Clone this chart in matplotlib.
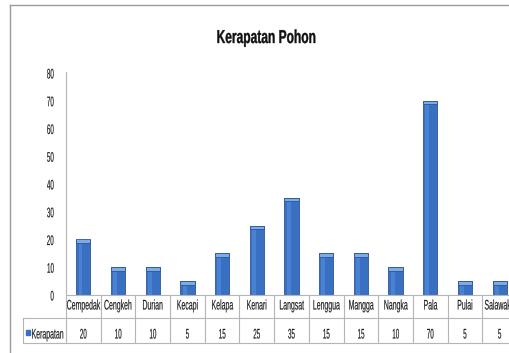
import matplotlib
matplotlib.use("Agg")
import matplotlib.pyplot as plt
from matplotlib.lines import Line2D
from matplotlib.patches import Rectangle
from matplotlib.patheffects import AbstractPathEffect
from matplotlib.transforms import Affine2D

plt.rcParams['font.family'] = ['Liberation Sans', 'DejaVu Sans']

# Kerapatan pohon per jenis
jenis = ['Cempedak', 'Cengkeh', 'Durian', 'Kecapi', 'Kelapa', 'Kenari', 'Langsat',
         'Lenggua', 'Mangga', 'Nangka', 'Pala', 'Pulai', 'Salawaku']
kerapatan = [20, 10, 10, 5, 15, 25, 35, 15, 15, 10, 70, 5, 5]
y_ticks = [0, 10, 20, 30, 40, 50, 60, 70, 80]


class Narrow(AbstractPathEffect):
    """Squeeze glyphs horizontally (condensed look) around one edge or the middle."""

    def __init__(self, sx, anchor='center', weight=0.1):
        super().__init__()
        self.sx = sx
        self.anchor = anchor
        self.weight = weight

    def draw_path(self, renderer, gc, tpath, affine, rgbFace=None):
        ext = tpath.get_extents()
        if self.anchor == 'left':
            cx = ext.x0
        elif self.anchor == 'right':
            cx = ext.x1
        else:
            cx = (ext.x0 + ext.x1) / 2
        squash = Affine2D().translate(-cx, 0).scale(self.sx, 1).translate(cx, 0)
        gc0 = renderer.new_gc()
        gc0.copy_properties(gc)
        gc0.set_linewidth(self.weight)
        gc0.set_foreground(rgbFace)
        renderer.draw_path(gc0, tpath, squash + affine, rgbFace)
        gc0.restore()


W, H = 510, 353
fig = plt.figure(figsize=(W / 100, H / 100), dpi=100)
fig.patch.set_facecolor('white')

def fx(px):
    return px / W

def fy(py):
    return 1 - py / H

# plot area in pixels (right edge runs past the figure)
x0, x1 = 66, 517
ytop, ybot = 73, 295
ax = fig.add_axes([x0 / W, (H - ybot) / H, (x1 - x0) / W, (ybot - ytop) / H])
n = len(jenis)
xs = list(range(n))
ax.set_xlim(-0.5, n - 0.5)
ax.set_ylim(0, 80)

bw = 0.41
ax.bar(xs, kerapatan, width=bw, color='#3a70c2', edgecolor='#2b5696', linewidth=0.6, zorder=2)
# lighter strip and top cap for the rounded look
ax.bar([x - bw * 0.2 for x in xs], kerapatan, width=bw * 0.28, color='#4a82d3',
       linewidth=0, zorder=3)
cap = 1.3
ax.bar(xs, [cap] * n, bottom=[v - cap for v in kerapatan], width=bw,
       color='#7eaae6', edgecolor='#2b5696', linewidth=0.6, zorder=4)

for s in ['top', 'right', 'bottom', 'left']:
    ax.spines[s].set_visible(False)
ax.set_yticks(y_ticks)
ax.tick_params(axis='y', length=0, pad=8.5, labelsize=10, labelcolor='#1a1a1a')
for t in ax.get_yticklabels():
    t.set_path_effects([Narrow(0.45, 'right')])
ax.set_xticks([])

title = fig.text(fx(266), fy(43), 'Kerapatan Pohon', ha='center', va='baseline',
                 fontsize=13.5, fontweight='bold', color='#111111')
title.set_path_effects([Narrow(0.64, weight=0.25)])

# data table under the axis
cw = (x1 - x0) / n
row1, row2, row3 = 295, 318, 343
grid = '#b5b5b5'
lines = [([x0, x0], [ytop - 1, row3]),
         ([x0, W], [row1, row1]),
         ([23, W], [row2, row2]),
         ([23, W], [row3, row3]),
         ([23, 23], [row2, row3])]
for i in range(1, n + 1):
    px = x0 + i * cw
    lines.append(([px, px], [row1, row3]))
for lx, ly in lines:
    fig.add_artist(Line2D([fx(v) for v in lx], [fy(v) for v in ly],
                          color=grid, linewidth=0.8))

for i, (nm, v) in enumerate(zip(jenis, kerapatan)):
    cx = x0 + (i + 0.5) * cw
    t1 = fig.text(fx(cx), fy(309.5), nm, ha='center', va='baseline',
                  fontsize=10, color='#1a1a1a')
    t1.set_path_effects([Narrow(0.5)])
    t2 = fig.text(fx(cx), fy(338.5), str(v), ha='center', va='baseline',
                  fontsize=10, color='#1a1a1a')
    t2.set_path_effects([Narrow(0.45)])

fig.add_artist(Rectangle((fx(26), fy(335)), 4.5 / W, 5.5 / H, color='#3a70c2'))
leg = fig.text(fx(31), fy(338.5), 'Kerapatan', ha='left', va='baseline',
               fontsize=10, color='#1a1a1a')
leg.set_path_effects([Narrow(0.5, 'left')])

# outer frame
fig.add_artist(Line2D([fx(10), fx(W)], [fy(5), fy(5)], color='#9a9a9a', linewidth=1))
fig.add_artist(Line2D([fx(10), fx(10)], [fy(5), fy(H)], color='#9a9a9a', linewidth=1))

fig.savefig('out.png', dpi=100, facecolor='white')
